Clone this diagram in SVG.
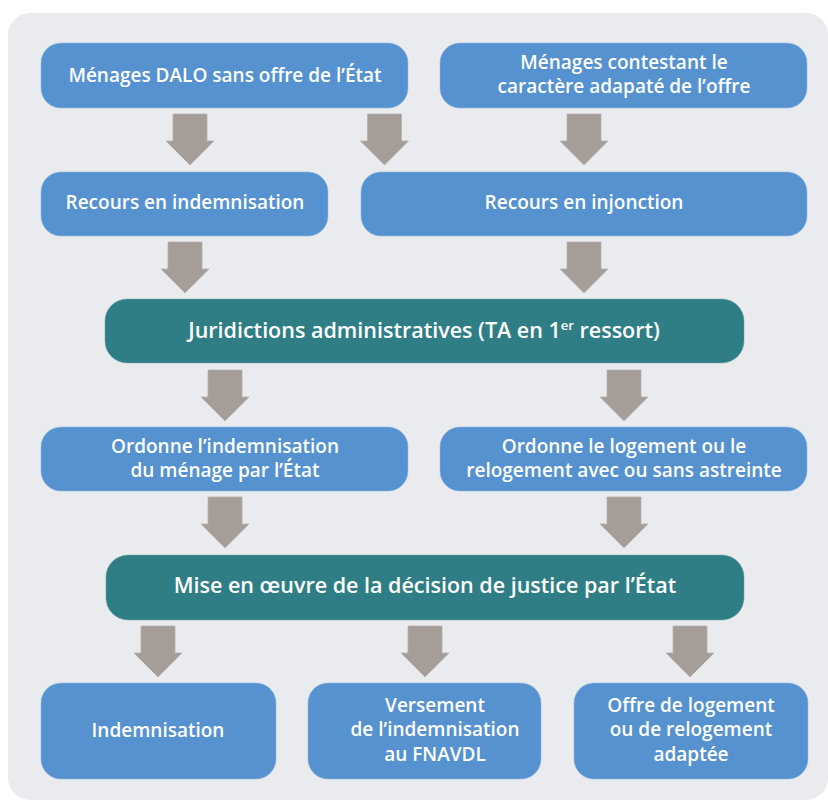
<svg xmlns="http://www.w3.org/2000/svg" xmlns:xlink="http://www.w3.org/1999/xlink" width="828" height="802" viewBox="0 0 828 802">
<style>
.box{fill:#5592CF;stroke:#8DB7E0;stroke-width:1;stroke-opacity:0.6}
.teal{fill:#2F7E85;stroke:#6FA3A8;stroke-width:1;stroke-opacity:0.5}
.t{font-family:"Open Sans","Noto Sans","Liberation Sans",sans-serif;font-weight:600;fill:#FFFFFF;text-anchor:middle;font-size:19px}
.tt{font-size:21.5px}
.arr{fill:#A59D97;stroke:#B8B1AC;stroke-width:0.8}
</style>
<defs>
<path id="ar" class="arr" d="M-17,0 L17,0 L17,27 L24,27 L0,51 L-24,27 L-17,27 Z"/>
</defs>
<rect x="8" y="13" width="820" height="787" rx="22" fill="#EAEBEF"/>
<g id="connectors">
<use xlink:href="#ar" x="190" y="114"/>
<use xlink:href="#ar" x="384.5" y="114"/>
<use xlink:href="#ar" x="584" y="114"/>
<use xlink:href="#ar" x="185" y="242"/>
<use xlink:href="#ar" x="584" y="242"/>
<use xlink:href="#ar" x="225" y="370"/>
<use xlink:href="#ar" x="624" y="370"/>
<use xlink:href="#ar" x="225" y="497"/>
<use xlink:href="#ar" x="624" y="497"/>
<use xlink:href="#ar" x="158" y="626"/>
<use xlink:href="#ar" x="425" y="626"/>
<use xlink:href="#ar" x="690" y="626"/>
</g>
<g id="n1"><rect class="box" x="41" y="43" width="367" height="65" rx="20"/>
<text class="t" x="225" y="82">Ménages DALO sans offre de l’État</text></g>
<g id="n2"><rect class="box" x="440" y="43" width="367" height="65" rx="20"/>
<text class="t" x="624" y="69">Ménages contestant le</text>
<text class="t" x="624" y="93">caractère adapaté de l’offre</text></g>
<g id="n3"><rect class="box" x="41" y="172" width="287" height="64" rx="20"/>
<text class="t" x="185" y="209">Recours en indemnisation</text></g>
<g id="n4"><rect class="box" x="361" y="172" width="446" height="64" rx="20"/>
<text class="t" x="584" y="209">Recours en injonction</text></g>
<g id="n5"><rect class="teal" x="105" y="299" width="639" height="64" rx="22"/>
<text class="t tt" x="424" y="338">Juridictions administratives (TA en 1<tspan font-size="13" dy="-8">er</tspan><tspan dy="8"> ressort)</tspan></text></g>
<g id="n6"><rect class="box" x="41" y="427" width="367" height="64" rx="20"/>
<text class="t" x="225" y="453">Ordonne l’indemnisation</text>
<text class="t" x="225" y="477">du ménage par l’État</text></g>
<g id="n7"><rect class="box" x="440" y="427" width="367" height="64" rx="20"/>
<text class="t" x="624" y="453">Ordonne le logement ou le</text>
<text class="t" x="624" y="477">relogement avec ou sans astreinte</text></g>
<g id="n8"><rect class="teal" x="106" y="555" width="638" height="65" rx="22"/>
<text class="t tt" x="425" y="593">Mise en œuvre de la décision de justice par l’État</text></g>
<g id="n9"><rect class="box" x="41" y="683" width="235" height="96" rx="20"/>
<text class="t" x="158" y="737">Indemnisation</text></g>
<g id="n10"><rect class="box" x="308" y="683" width="233" height="96" rx="20"/>
<text class="t" x="435" y="712">Versement</text>
<text class="t" x="435" y="736">de l’indemnisation</text>
<text class="t" x="435" y="761">au FNAVDL</text></g>
<g id="n11"><rect class="box" x="574" y="683" width="234" height="96" rx="20"/>
<text class="t" x="691" y="712">Offre de logement</text>
<text class="t" x="691" y="736">ou de relogement</text>
<text class="t" x="691" y="761">adaptée</text></g>
</svg>
